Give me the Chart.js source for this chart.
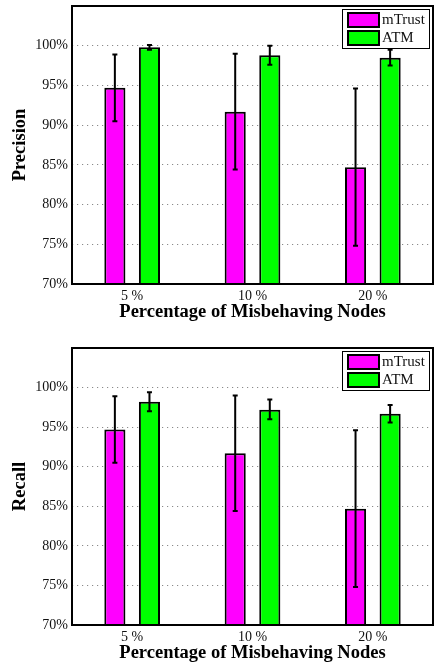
<!DOCTYPE html>
<html>
<head>
<meta charset="utf-8">
<script src="https://cdn.jsdelivr.net/npm/chart.js@4/dist/chart.umd.min.js"></script>
<style>
  html, body { margin: 0; padding: 0; background: #fff; }
  #wrap { position: relative; width: 434px; height: 665px; }
  #c1 { position: absolute; left: 0; top: 0; }
  #c2 { position: absolute; left: 0; top: 341px; }
</style>
</head>
<body>
<div id="wrap">
  <canvas id="c1" width="434" height="330"></canvas>
  <canvas id="c2" width="434" height="324"></canvas>
</div>
<script>
// ---- data ----
const categories = ['5 %', '10 %', '20 %'];
const seriesNames = ['mTrust', 'ATM'];
const yTicks = [70, 75, 80, 85, 90, 95, 100];

const precisionMTrust     = [94.7, 91.7, 84.7];
const precisionMTrustLow  = [90.5, 84.4, 74.8];
const precisionMTrustHigh = [98.9, 99.0, 94.6];
const precisionATM        = [99.8, 98.8, 98.5];
const precisionATMLow     = [99.5, 97.6, 97.5];
const precisionATMHigh    = [100.1, 100.0, 99.5];

const recallMTrust     = [94.7, 91.7, 84.7];
const recallMTrustLow  = [90.5, 84.4, 74.8];
const recallMTrustHigh = [98.9, 99.0, 94.6];
const recallATM        = [98.2, 97.2, 96.7];
const recallATMLow     = [97.0, 96.0, 95.6];
const recallATMHigh    = [99.4, 98.5, 97.8];

// ---- styling ----
const SERIF = '"Liberation Serif", "Times New Roman", serif';
const colors = ['#ff00ff', '#00ff00'];

const errorBarPlugin = {
  id: 'errorBars',
  afterDatasetsDraw(chart) {
    const ctx = chart.ctx;
    const yScale = chart.scales.y;
    ctx.save();
    ctx.strokeStyle = '#000';
    ctx.lineWidth = 2;
    chart.data.datasets.forEach((ds, di) => {
      const meta = chart.getDatasetMeta(di);
      meta.data.forEach((bar, i) => {
        const x = bar.x;
        const yl = yScale.getPixelForValue(ds.errLow[i]);
        const yh = yScale.getPixelForValue(ds.errHigh[i]);
        ctx.beginPath();
        ctx.moveTo(x, yl); ctx.lineTo(x, yh);
        ctx.moveTo(x - 2.5, yl); ctx.lineTo(x + 2.5, yl);
        ctx.moveTo(x - 2.5, yh); ctx.lineTo(x + 2.5, yh);
        ctx.stroke();
      });
    });
    ctx.restore();
  }
};

const framePlugin = {
  id: 'frame',
  afterDraw(chart) {
    const ctx = chart.ctx;
    const a = chart.chartArea;
    ctx.save();
    ctx.strokeStyle = '#000';
    ctx.lineWidth = 2;
    ctx.strokeRect(a.left, a.top, a.right - a.left, a.bottom - a.top);
    // legend box
    const bw = 88, bh = 40;
    const bx = a.right - 3 - bw, by = a.top + 3;
    ctx.fillStyle = '#fff';
    ctx.fillRect(bx, by, bw, bh);
    ctx.lineWidth = 1;
    ctx.strokeRect(bx + 0.5, by + 0.5, bw - 1, bh - 1);
    ctx.font = '15px ' + SERIF;
    ctx.textBaseline = 'middle';
    ctx.textAlign = 'left';
    chart.data.datasets.forEach((ds, i) => {
      const sy = by + 4 + i * 18;
      ctx.fillStyle = ds.backgroundColor;
      ctx.fillRect(bx + 6, sy, 31, 14);
      ctx.lineWidth = 2;
      ctx.strokeStyle = '#000';
      ctx.strokeRect(bx + 6, sy, 31, 14);
      ctx.fillStyle = '#111';
      ctx.fillText(ds.label, bx + 40, sy + 7.5);
    });
    ctx.restore();
  }
};

function makeChart(id, yTitle, v1, l1, h1, v2, l2, h2) {
  return new Chart(document.getElementById(id), {
    type: 'bar',
    data: {
      labels: categories,
      datasets: [
        { label: seriesNames[0], data: v1, errLow: l1, errHigh: h1,
          backgroundColor: colors[0], borderColor: '#000', borderWidth: 2, borderSkipped: false,
          categoryPercentage: 0.575, barPercentage: 0.61 },
        { label: seriesNames[1], data: v2, errLow: l2, errHigh: h2,
          backgroundColor: colors[1], borderColor: '#000', borderWidth: 2, borderSkipped: false,
          categoryPercentage: 0.575, barPercentage: 0.61 }
      ]
    },
    options: {
      responsive: false,
      animation: false,
      events: [],
      layout: { padding: { top: id === 'c1' ? 6 : 7, left: 0, right: 1, bottom: id === 'c1' ? 7 : 1 } },
      plugins: { legend: { display: false }, tooltip: { enabled: false } },
      scales: {
        x: {
          grid: { display: false, drawTicks: false },
          border: { display: false },
          ticks: { color: '#111', font: { family: SERIF, size: 14 }, padding: 4 },
          title: { display: true, text: 'Percentage of Misbehaving Nodes', color: '#000',
                   font: { family: SERIF, size: 18.5, weight: 'bold' }, padding: { top: 0, bottom: 0 } },
          afterFit(scale) { scale.height = 39; scale.paddingLeft = 0; scale.paddingRight = 0; }
        },
        y: {
          min: 70, max: 105,
          afterBuildTicks(scale) { scale.ticks = yTicks.map(v => ({ value: v })); },
          grid: { color: '#8a8a8a', lineWidth: 1, drawTicks: false },
          border: { display: false, dash: [1.2, 3.8] },
          ticks: { color: '#111', font: { family: SERIF, size: 14 }, padding: 4,
                   callback: v => v + '%' },
          title: { display: true, text: yTitle, color: '#000',
                   font: { family: SERIF, size: 18.5, weight: 'bold' }, padding: { top: 9, bottom: 0 } },
          afterFit(scale) { scale.width = 72; scale.paddingTop = 0; scale.paddingBottom = 0; }
        }
      }
    },
    plugins: [errorBarPlugin, framePlugin]
  });
}

makeChart('c1', 'Precision', precisionMTrust, precisionMTrustLow, precisionMTrustHigh,
          precisionATM, precisionATMLow, precisionATMHigh);
makeChart('c2', 'Recall', recallMTrust, recallMTrustLow, recallMTrustHigh,
          recallATM, recallATMLow, recallATMHigh);
</script>
</body>
</html>
